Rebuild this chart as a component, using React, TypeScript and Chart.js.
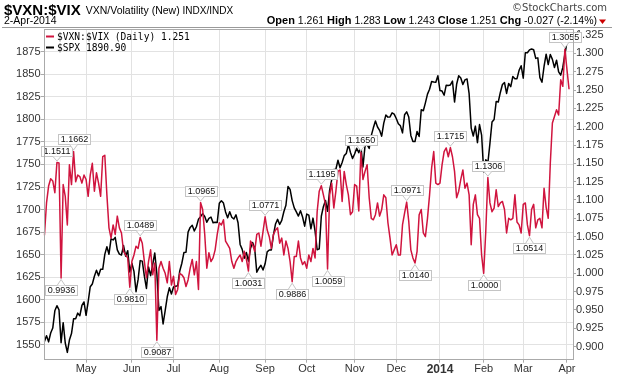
import React, { useEffect, useRef } from 'react';
import { Chart, registerables } from 'chart.js';
Chart.register(...registerables);

// ---- data (trading-day index 0 = 3-Apr-2013 ... 252 = 2-Apr-2014) ----
const ratioValues: number[] = [
  // Apr 2013
  1.052, 1.096, 1.119, 1.129, 1.126, 1.110, 1.1511, 1.1505, 0.9936, 1.121,
  1.105, 1.066, 1.148, 1.121, 1.1662, 1.125, 1.134, 1.132, 1.123, 1.134,
  // May
  1.128, 1.105, 1.134, 1.150, 1.112, 1.137, 1.123, 1.105, 1.159, 1.161, 1.107,
  1.062, 1.048, 1.066, 1.053, 1.078, 1.062, 1.055, 1.030, 1.025, 1.021, 0.9810,
  // Jun
  1.016, 1.025, 1.037, 1.034, 1.0489, 1.041, 1.016, 0.994, 1.016, 1.032,
  0.998, 1.014, 0.9087, 1.007, 1.016, 1.007, 1.000, 0.987, 1.016, 0.984,
  // Jul
  0.996, 0.971, 0.978, 1.000, 0.998, 0.994, 0.982, 0.991, 1.007, 1.019, 0.998,
  1.016, 0.978, 1.0965, 1.087, 1.053, 1.007, 1.028, 1.016, 1.021, 1.032, 1.053,
  // Aug
  1.069, 1.066, 1.073, 1.044, 1.039, 1.034, 1.016, 1.007, 1.016, 1.021, 1.025,
  1.016, 1.030, 1.019, 1.0031, 1.044, 1.039, 1.030, 1.053, 1.055, 1.037, 1.057,
  // Sep
  1.0771, 1.059, 1.050, 1.034, 1.053, 1.059, 1.062, 1.041, 1.048, 1.025,
  1.044, 1.034, 1.016, 0.9886, 1.023, 1.023, 1.044, 1.021, 1.012, 1.016,
  // Oct
  1.007, 1.025, 1.016, 1.034, 1.021, 1.084, 1.112, 1.1195, 1.107, 1.094, 1.0059, 1.107,
  1.123, 1.089, 1.112, 1.139, 1.141, 1.098, 1.139, 1.121, 1.107, 1.080, 1.084,
  // Nov
  1.121, 1.119, 1.085, 1.1650, 1.128, 1.139, 1.148, 1.103, 1.075, 1.073,
  1.080, 1.096, 1.078, 1.087, 1.107, 1.103, 1.069, 1.048, 1.025, 1.032,
  // Dec
  1.039, 1.025, 1.025, 1.066, 1.082, 1.0971, 1.071, 1.032, 1.021, 1.0140, 1.030,
  1.080, 1.087, 1.055, 1.050, 1.075, 1.107, 1.144, 1.166, 1.123, 1.121,
  // Jan 2014
  1.123, 1.148, 1.166, 1.171, 1.159, 1.1715, 1.159, 1.139, 1.103, 1.112, 1.128,
  1.141, 1.116, 1.123, 1.107, 1.039, 1.094, 1.107, 1.080, 1.075, 1.025,
  // Feb
  1.0000, 1.057, 1.1306, 1.096, 1.084, 1.089, 1.114, 1.091, 1.096, 1.098,
  1.087, 1.055, 1.075, 1.073, 1.075, 1.107, 1.070, 1.066, 1.055,
  // Mar
  1.094, 1.096, 1.066, 1.0514, 1.087, 1.094, 1.062, 1.073, 1.075, 1.062, 1.116,
  1.090, 1.075, 1.150, 1.205, 1.214, 1.223, 1.216, 1.264, 1.255, 1.3055,
  // Apr
  1.278, 1.251,
];

const spxValues: number[] = [
  // Apr 2013
  1553.69, 1559.98, 1553.28, 1563.07, 1568.61, 1587.73, 1593.37, 1588.85, 1552.36, 1574.57,
  1552.01, 1541.61, 1555.25, 1562.50, 1578.78, 1578.79, 1585.16, 1582.24, 1593.61, 1597.57,
  // May
  1582.70, 1597.59, 1614.42, 1617.50, 1625.96, 1632.69, 1626.67, 1633.70, 1633.77, 1650.34, 1658.78,
  1650.47, 1667.47, 1666.29, 1669.16, 1655.35, 1650.51, 1649.60, 1660.06, 1648.36, 1654.41, 1630.74,
  // Jun
  1640.42, 1631.38, 1608.90, 1622.56, 1643.38, 1642.81, 1626.13, 1612.52, 1636.36, 1626.73,
  1639.04, 1651.81, 1628.93, 1588.19, 1592.43, 1573.09, 1588.03, 1603.26, 1613.20, 1606.28,
  // Jul
  1614.08, 1614.96, 1615.41, 1631.89, 1640.46, 1652.32, 1652.62, 1675.02, 1680.19, 1682.50, 1676.26,
  1680.91, 1689.37, 1692.09, 1695.53, 1692.39, 1685.94, 1690.25, 1691.65, 1685.33, 1685.96, 1685.73,
  // Aug
  1706.87, 1709.67, 1707.14, 1697.37, 1690.91, 1697.48, 1691.42, 1689.47, 1694.16, 1685.39, 1661.32,
  1655.83, 1646.06, 1652.35, 1642.80, 1656.96, 1663.50, 1656.78, 1630.48, 1634.96, 1638.17, 1632.97,
  // Sep
  1639.77, 1653.08, 1655.08, 1655.17, 1671.71, 1683.99, 1689.13, 1683.42, 1687.99, 1697.60,
  1704.76, 1725.52, 1722.34, 1709.91, 1701.84, 1697.42, 1692.77, 1698.67, 1691.75, 1681.55,
  // Oct
  1695.00, 1693.87, 1678.66, 1690.50, 1676.12, 1655.45, 1656.40, 1692.56, 1703.20, 1710.14, 1698.06, 1721.54,
  1733.15, 1744.50, 1744.66, 1754.67, 1746.38, 1752.07, 1759.77, 1762.11, 1771.95, 1763.31, 1756.54,
  // Nov
  1761.64, 1767.93, 1762.97, 1770.49, 1747.15, 1770.61, 1771.89, 1767.69, 1782.00, 1790.62,
  1798.18, 1791.53, 1787.87, 1781.37, 1795.85, 1804.76, 1802.48, 1802.75, 1807.23, 1805.81,
  // Dec
  1800.90, 1795.15, 1792.81, 1785.03, 1805.09, 1808.37, 1802.62, 1782.22, 1775.50, 1775.32, 1786.54,
  1781.00, 1810.65, 1809.60, 1818.32, 1827.99, 1833.32, 1842.02, 1841.40, 1841.07, 1848.36,
  // Jan 2014
  1831.98, 1831.37, 1826.77, 1837.88, 1837.49, 1838.13, 1842.37, 1819.20, 1838.88, 1848.38, 1845.89,
  1838.70, 1843.80, 1844.86, 1828.46, 1790.29, 1781.56, 1792.50, 1774.20, 1794.19, 1782.59,
  // Feb
  1741.89, 1755.20, 1751.64, 1773.43, 1797.02, 1799.84, 1819.75, 1819.26, 1829.83, 1838.63,
  1840.76, 1828.75, 1839.78, 1836.25, 1847.61, 1845.12, 1845.16, 1854.29, 1859.45,
  // Mar
  1845.73, 1873.91, 1873.81, 1877.03, 1878.04, 1877.17, 1867.63, 1868.20, 1846.34, 1841.13, 1858.83,
  1872.25, 1860.77, 1872.01, 1866.52, 1857.44, 1865.62, 1852.56, 1849.04, 1857.62, 1872.34,
  // Apr
  1885.52, 1890.90,
];

const monthTickIndex = [20, 42, 62, 84, 106, 126, 149, 169, 190, 211, 230, 251];
const monthTickLabels = ['May', 'Jun', 'Jul', 'Aug', 'Sep', 'Oct', 'Nov', 'Dec', '2014', 'Feb', 'Mar', 'Apr'];
const spxTicks = [1550, 1575, 1600, 1625, 1650, 1675, 1700, 1725, 1750, 1775, 1800, 1825, 1850, 1875];
const ratioTicks = [0.9, 0.925, 0.95, 0.975, 1.0, 1.025, 1.05, 1.075, 1.1, 1.125, 1.15, 1.175, 1.2, 1.225, 1.25, 1.275, 1.3, 1.325];

const labelIdx = [6, 8, 14, 41, 46, 54, 75, 98, 106, 119, 133, 136, 152, 174, 178, 195, 211, 213, 233, 250];
const labelSide = ['up', 'down', 'up', 'down', 'up', 'down', 'up', 'down', 'up', 'down', 'up', 'down', 'up', 'up', 'down', 'up', 'down', 'up', 'down', 'up'];

const headerStats = [
  ['Open', '1.261'], ['High', '1.283'], ['Low', '1.243'], ['Close', '1.251'], ['Chg', '-0.027 (-2.14%)'],
];

const RED = '#d0143e';
const SANS = '"Liberation Sans", Arial, sans-serif';

const overlay = {
  id: 'overlay',
  beforeDraw(chart: any) {
    const ctx = chart.ctx as CanvasRenderingContext2D;
    ctx.save();
    ctx.fillStyle = '#fff';
    ctx.fillRect(0, 0, chart.width, chart.height);
    ctx.textBaseline = 'alphabetic';
    // title
    ctx.fillStyle = '#000';
    ctx.font = `bold 15px ${SANS}`;
    ctx.fillText('$VXN:$VIX', 4, 15);
    const tw = ctx.measureText('$VXN:$VIX').width;
    ctx.font = `10.5px ${SANS}`;
    ctx.fillText('VXN/Volatility (New)', 4 + tw + 5, 14);
    const sw = ctx.measureText('VXN/Volatility (New) ').width;
    ctx.font = `10px ${SANS}`;
    ctx.fillText('INDX/INDX', 4 + tw + 5 + sw, 14);
    // copyright
    ctx.fillStyle = '#444';
    ctx.font = `10px "DejaVu Sans", sans-serif`;
    ctx.textAlign = 'right';
    ctx.fillText('\u00A9StockCharts.com', 607, 11);
    ctx.textAlign = 'left';
    // second row
    ctx.fillStyle = '#000';
    ctx.font = `10.5px ${SANS}`;
    ctx.fillText('2-Apr-2014', 4, 24);
    const parts: { t: string; b: boolean }[] = [];
    headerStats.forEach(([k, v], i) => {
      parts.push({ t: k, b: true });
      parts.push({ t: ' ' + v + (i < headerStats.length - 1 ? ' ' : ''), b: false });
    });
    const fontOf = (b: boolean) => (b ? `bold 11px ${SANS}` : `10.5px ${SANS}`);
    let total = 0;
    parts.forEach(p => { ctx.font = fontOf(p.b); total += ctx.measureText(p.t).width; });
    let x = 597 - total;
    parts.forEach(p => { ctx.font = fontOf(p.b); ctx.fillText(p.t, x, 24); x += ctx.measureText(p.t).width; });
    // red down triangle
    ctx.fillStyle = '#cc0000';
    ctx.beginPath();
    ctx.moveTo(599, 19.5); ctx.lineTo(606, 19.5); ctx.lineTo(602.5, 24); ctx.closePath();
    ctx.fill();
    // separator line
    ctx.strokeStyle = '#9a9a9a';
    ctx.lineWidth = 1;
    ctx.beginPath(); ctx.moveTo(2, 27.5); ctx.lineTo(612, 27.5); ctx.stroke();
    ctx.restore();
  },
  afterDatasetsDraw(chart: any) {
    const ctx = chart.ctx as CanvasRenderingContext2D;
    const a = chart.chartArea;
    const xs = chart.scales.x;
    const ys = chart.scales.y1;
    ctx.save();
    // annotation boxes
    ctx.font = `9px ${SANS}`;
    ctx.textBaseline = 'middle';
    ctx.textAlign = 'center';
    labelIdx.forEach((idx, k) => {
      const px = xs.getPixelForValue(idx);
      const py = ys.getPixelForValue(ratioValues[idx]);
      const text = ratioValues[idx].toFixed(4);
      const w = Math.round(ctx.measureText(text).width + 4);
      const h = 10;
      const up = labelSide[k] === 'up';
      const bx = Math.round(px - w / 2) + 0.5;
      const by = up ? Math.round(py - 7 - h) + 0.5 : Math.round(py + 7) + 0.5;
      ctx.fillStyle = '#fff';
      ctx.strokeStyle = '#c4c4c4';
      ctx.lineWidth = 1;
      ctx.fillRect(bx, by, w, h);
      ctx.strokeRect(bx, by, w, h);
      // pointer
      const edge = up ? by + h : by;
      const tip = up ? py - 1.5 : py + 1.5;
      ctx.beginPath();
      ctx.moveTo(px - 4, edge);
      ctx.lineTo(px, tip);
      ctx.lineTo(px + 4, edge);
      ctx.fill();
      ctx.stroke();
      ctx.fillStyle = '#111';
      ctx.fillText(text, bx + w / 2, by + h / 2 + 0.5);
    });
    // legend
    ctx.textAlign = 'left';
    ctx.textBaseline = 'middle';
    ctx.font = `9.6px "DejaVu Sans Mono", monospace`;
    ctx.lineWidth = 2;
    ctx.strokeStyle = RED;
    ctx.beginPath(); ctx.moveTo(46, 36.5); ctx.lineTo(54, 36.5); ctx.stroke();
    ctx.fillStyle = '#000';
    ctx.fillText('$VXN:$VIX (Daily) ' + ratioValues[ratioValues.length - 1].toFixed(3), 57, 37);
    ctx.strokeStyle = '#000';
    ctx.beginPath(); ctx.moveTo(46, 47.5); ctx.lineTo(54, 47.5); ctx.stroke();
    ctx.fillText('$SPX ' + spxValues[spxValues.length - 1].toFixed(2), 57, 48);
    // plot border
    ctx.strokeStyle = '#aaaaaa';
    ctx.lineWidth = 1;
    ctx.strokeRect(Math.round(a.left) + 0.5, Math.round(a.top) + 0.5, Math.round(a.right - a.left) - 1, Math.round(a.bottom - a.top) - 1);
    ctx.restore();
  },
};

export default function App() {
  const ref = useRef<HTMLCanvasElement>(null);
  useEffect(() => {
    const tickFont = { family: SANS, size: 11 };
    const chart = new Chart(ref.current as HTMLCanvasElement, {
      type: 'line',
      data: {
        datasets: [
          {
            label: '$VXN:$VIX',
            data: ratioValues.map((v, i) => ({ x: i, y: v })),
            yAxisID: 'y1',
            borderColor: RED,
            borderWidth: 1.5,
            pointRadius: 0,
            tension: 0,
            borderJoinStyle: 'round',
          },
          {
            label: '$SPX',
            data: spxValues.map((v, i) => ({ x: i, y: v })),
            yAxisID: 'y',
            borderColor: '#000',
            borderWidth: 1.5,
            pointRadius: 0,
            tension: 0,
            borderJoinStyle: 'round',
          },
        ],
      },
      options: {
        responsive: false,
        animation: false,
        events: [],
        layout: { padding: { top: 29, left: 0, right: 0, bottom: 0 } },
        plugins: { legend: { display: false }, tooltip: { enabled: false }, title: { display: false } },
        scales: {
          x: {
            type: 'linear',
            min: -0.45,
            max: 253.9,
            afterBuildTicks: (s: any) => { s.ticks = monthTickIndex.map(v => ({ value: v })); },
            afterFit: (s: any) => { s.height = 16.3; },
            grid: { color: '#e2e2e2', tickLength: 3, tickColor: '#aaa' },
            border: { display: false },
            ticks: {
              autoSkip: false,
              maxRotation: 0,
              minRotation: 0,
              padding: 0,
              color: '#333',
              font: (c: any) => (c.tick && c.tick.value === 190 ? { family: SANS, size: 12, weight: 'bold' } : tickFont),
              callback: (v: any, i: number) => monthTickLabels[i],
            },
          },
          y: {
            type: 'linear',
            position: 'left',
            min: 1533.5,
            max: 1900.2,
            afterBuildTicks: (s: any) => { s.ticks = spxTicks.map(v => ({ value: v })); },
            afterFit: (s: any) => { s.width = 43.5; },
            grid: { color: '#e2e2e2', tickLength: 3, tickColor: '#aaa' },
            border: { display: false },
            ticks: { padding: 0, color: '#333', font: tickFont, callback: (v: any) => String(v) },
          },
          y1: {
            type: 'linear',
            position: 'right',
            min: 0.8822,
            max: 1.3332,
            afterBuildTicks: (s: any) => { s.ticks = ratioTicks.map(v => ({ value: v })); },
            afterFit: (s: any) => { s.width = 47; },
            grid: { drawOnChartArea: false, tickLength: 3, tickColor: '#aaa' },
            border: { display: false },
            ticks: { padding: 0, color: '#333', font: tickFont, callback: (v: any) => Number(v).toFixed(3) },
          },
        },
      } as any,
      plugins: [overlay],
    });
    return () => chart.destroy();
  }, []);
  return (
    <div style={{ position: 'absolute', left: 0, top: 0, width: 620, height: 376, background: '#fff' }}>
      <canvas ref={ref} width={620} height={376} style={{ display: 'block', width: 620, height: 376 }} />
    </div>
  );
}
